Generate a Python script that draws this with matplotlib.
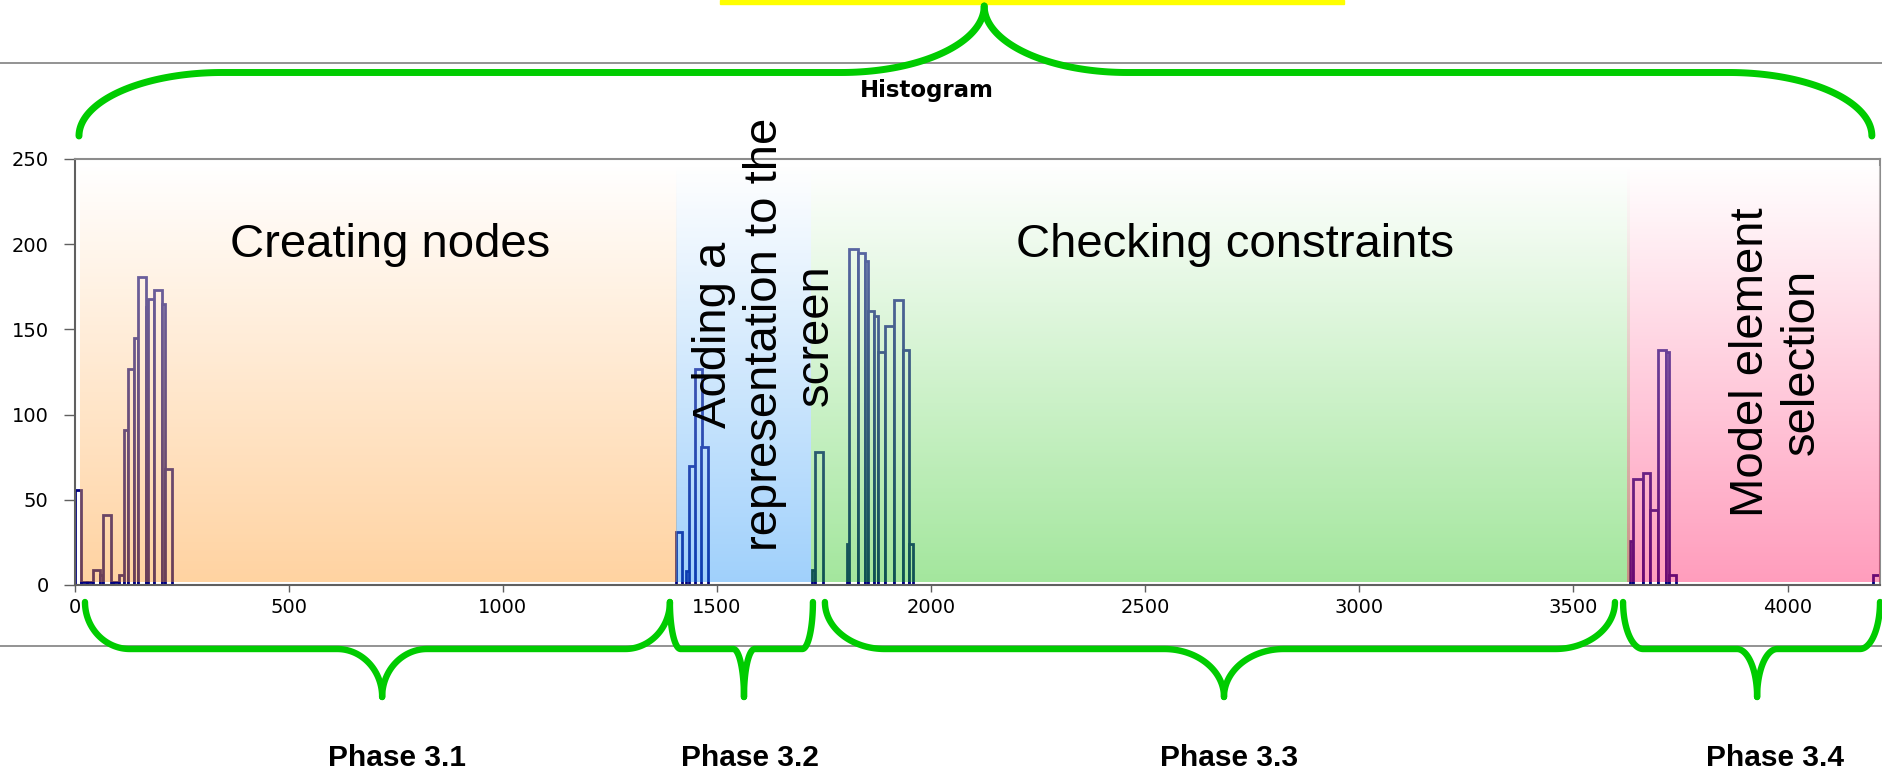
import numpy as np
import matplotlib
matplotlib.use("Agg")
import matplotlib.pyplot as plt
from matplotlib import transforms
from matplotlib.lines import Line2D
from matplotlib.patches import Rectangle

# histogram bins (ms) and counts
bin_left = [0, 14, 28, 43, 59, 65, 90, 103, 115, 125, 139, 148, 166, 172, 185, 205, 211,
            1404, 1428, 1435, 1449, 1462,
            1721, 1729, 1803, 1809, 1830, 1846, 1853, 1867, 1875, 1892, 1914, 1935, 1949,
            3631, 3640, 3662, 3679, 3698, 3716, 3724, 4200]
bin_right = [14, 28, 43, 59, 65, 84, 103, 115, 125, 139, 148, 166, 172, 185, 205, 211, 227,
             1418, 1438, 1451, 1464, 1478,
             1729, 1748, 1811, 1830, 1846, 1853, 1867, 1875, 1892, 1914, 1935, 1949, 1957,
             3640, 3662, 3679, 3698, 3716, 3724, 3740, 4216]
counts = [56, 2, 2, 9, 6, 41, 2, 6, 91, 127, 145, 181, 163, 168, 173, 165, 68,
          31, 8, 70, 127, 81,
          9, 78, 24, 197, 195, 190, 161, 158, 137, 152, 167, 138, 24,
          26, 62, 66, 44, 138, 137, 6, 6]

# phases along the time axis (ms)
phase_names = ["Phase 3.1", "Phase 3.2", "Phase 3.3", "Phase 3.4"]
phase_start = [12, 1404, 1719, 3626]
phase_end = [1404, 1719, 3630, 4216]
phase_titles = ["Creating nodes", "Adding a\nrepresentation to the\nscreen",
                "Checking constraints", "Model element\nselection"]

# brace spans (ms) under each phase and over the whole run
brace_left = [24, 1390, 1752, 3616]
brace_right = [1390, 1724, 3597, 4216]
brace_mid = [718, 1563, 2684, 3929]
top_brace = (10, 4197, 2124)

x_ticks = [0, 500, 1000, 1500, 2000, 2500, 3000, 3500, 4000]
y_ticks = [0, 50, 100, 150, 200, 250]

# styles
region_colors = [(255, 150, 32), (30, 145, 247), (37, 197, 22), (255, 22, 97)]
title_pos = [(736, 192.6, 0), (1612, 146.8, 90), (2710, 192.6, 0), (3973, 131, 90)]
label_x = [753, 1577, 2696, 3971]
brace_rx = [105, 25, 140, 47]
GREEN = "#00cc00"
W, H = 1882, 773


def fy(px):
    """Figure fraction from a pixel row counted from the top."""
    return 1 - np.asarray(px) / H


def draw_region(ax, x0, x1, color):
    n = 256
    frac = np.linspace(0, 1, n)[:, None]
    c = np.array(color) / 255.0
    rgb = c * (1 - frac) + frac
    rgba = np.concatenate([rgb, np.full((n, 1), 0.42)], axis=1).reshape(n, 1, 4)
    ax.imshow(rgba, extent=(x0, x1, 2, 246), origin="lower", aspect="auto",
              zorder=3, interpolation="bilinear")


def draw_brace(fig, ax, x0, x1, xm, y_tip, y_flat, y_pt, rx, lw=4.6):
    trans = transforms.blended_transform_factory(ax.transData, fig.transFigure)
    t = np.linspace(0, np.pi / 2, 60)
    ys = np.concatenate([y_tip + (y_flat - y_tip) * np.sin(t),
                         y_flat + (y_pt - y_flat) * (1 - np.cos(t))])
    xl = np.concatenate([x0 + rx - rx * np.cos(t), xm - rx + rx * np.sin(t)])
    xr = np.concatenate([x1 - rx + rx * np.cos(t), xm + rx - rx * np.sin(t)])
    for xs in (xl, xr):
        fig.add_artist(Line2D(xs, fy(ys), transform=trans, color=GREEN, lw=lw,
                              solid_capstyle="round", solid_joinstyle="round", zorder=5))


def plot_histogram():
    fig = plt.figure(figsize=(W / 100, H / 100), dpi=100)
    ax = fig.add_axes([74.7 / W, 1 - 585 / H, (1880 - 74.7) / W, (585 - 159) / H])

    widths = [r - l for l, r in zip(bin_left, bin_right)]
    ax.bar(bin_left, counts, width=widths, align="edge", facecolor="white",
           edgecolor="#000080", linewidth=2.0, zorder=2)

    for x0, x1, col in zip(phase_start, phase_end, region_colors):
        draw_region(ax, x0, x1, col)

    for (x, y, rot), txt in zip(title_pos, phase_titles):
        ax.text(x, y, txt, rotation=rot, fontsize=34, family="Liberation Sans",
                ha="center", va="baseline" if rot == 0 else "center",
                multialignment="center", zorder=6)

    ax.set_xlim(0, 4216)
    ax.set_ylim(0, 250)
    ax.set_xticks(x_ticks)
    ax.set_yticks(y_ticks)
    ax.tick_params(axis="y", direction="out", length=7.7, width=1, color="#606060",
                   pad=11, labelsize=14)
    ax.tick_params(axis="x", direction="out", length=5, width=1, color="#606060",
                   pad=4.5, labelsize=14)
    for side in ("top", "right"):
        ax.spines[side].set_color("#8c8c8c")
        ax.spines[side].set_linewidth(1.5)
    for side in ("left", "bottom"):
        ax.spines[side].set_color("#606060")
        ax.spines[side].set_linewidth(1.5)

    # slide decorations around the chart
    for y in (63, 646):
        fig.add_artist(Line2D([0, 1], [fy(y), fy(y)], transform=fig.transFigure,
                              color="#8a8a8a", lw=1.3, zorder=1))
    fig.add_artist(Rectangle((720 / W, fy(4)), 624 / W, 4 / H, transform=fig.transFigure,
                             color="#ffff00", zorder=1))
    fig.text(927 / W, fy(90), "Histogram", ha="center", va="center", fontsize=16.5,
             fontweight="bold")

    draw_brace(fig, ax, *top_brace, 136, 72.5, 6, 334, lw=5)
    for x0, x1, xm, rx in zip(brace_left, brace_right, brace_mid, brace_rx):
        draw_brace(fig, ax, x0, x1, xm, 602, 649, 697, rx)

    trans = transforms.blended_transform_factory(ax.transData, fig.transFigure)
    for x, name in zip(label_x, phase_names):
        fig.text(x, fy(766), name, transform=trans, ha="center", va="baseline",
                 fontsize=21.5, fontweight="bold", family="Liberation Sans")
    return fig


def main():
    fig = plot_histogram()
    fig.savefig("out.png", dpi=100)


if __name__ == "__main__":
    main()
